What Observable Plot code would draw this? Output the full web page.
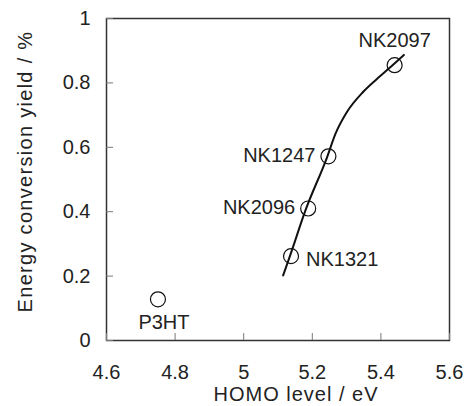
<!DOCTYPE html>
<html>
<head>
<meta charset="utf-8">
<script src="https://cdn.jsdelivr.net/npm/d3@7"></script>
<script src="https://cdn.jsdelivr.net/npm/@observablehq/plot@0.6"></script>
<style>
  html, body { margin: 0; padding: 0; background: #fff; }
  #chart svg { display: block; }
</style>
</head>
<body>
<div id="chart"></div>
<script>
// Materials (HOMO level in eV, energy conversion yield in %)
const names = ["P3HT", "NK1321", "NK2096", "NK1247", "NK2097"];
const homo = [4.75, 5.138, 5.188, 5.247, 5.44];
const yieldPct = [0.128, 0.262, 0.41, 0.572, 0.855];

// Trend curve
const curveX = [5.115, 5.136, 5.180, 5.243, 5.268, 5.300, 5.350, 5.399, 5.438, 5.467];
const curveY = [0.202, 0.266, 0.404, 0.569, 0.643, 0.708, 0.774, 0.822, 0.859, 0.887];

// Tick labels
const xTicks = [4.6, 4.8, 5.0, 5.2, 5.4, 5.6];
const yTicks = [0, 0.2, 0.4, 0.6, 0.8, 1];

const xTitle = "HOMO level / eV";
const yTitle = "Energy conversion yield / %";

const points = names.map((n, i) => ({name: n, x: homo[i], y: yieldPct[i]}));
const curve = curveX.map((x, i) => ({x, y: curveY[i]}));
const fmt = d => String(d);

const font = "'Liberation Sans', Arial, Helvetica, sans-serif";
const ink = "#222";

const chart = Plot.plot({
  width: 466,
  height: 406,
  marginLeft: 106,
  marginRight: 17,
  marginTop: 18,
  marginBottom: 66,
  style: {fontFamily: font, fontSize: "20px", color: ink, background: "#fff"},
  x: {domain: [4.6, 5.6]},
  y: {domain: [0, 1]},
  marks: [
    Plot.frame({stroke: "#333", strokeWidth: 1.5}),
    Plot.axisX({ticks: xTicks, tickSize: -7, tickPadding: 31, tickFormat: fmt, label: null, stroke: "#777", fontSize: 20, fill: ink}),
    Plot.axisY({ticks: yTicks, tickSize: -7, tickPadding: 23, tickFormat: fmt, label: null, stroke: "#777", fontSize: 20, fill: ink}),
    Plot.line(curve, {x: "x", y: "y", curve: "monotone-x", stroke: "#111", strokeWidth: 2}),
    Plot.dot(points, {x: "x", y: "y", r: 7.5, stroke: "#111", strokeWidth: 1.2, fill: "none"}),
    // labels
    Plot.text(points.filter(d => d.name === "NK2097"), {x: "x", y: "y", text: "name", dy: -25, fontSize: 20, fill: ink}),
    Plot.text(points.filter(d => d.name === "NK1247" || d.name === "NK2096"), {x: "x", y: "y", text: "name", textAnchor: "end", dx: -13, dy: -1, fontSize: 20, fill: ink}),
    Plot.text(points.filter(d => d.name === "NK1321"), {x: "x", y: "y", text: "name", textAnchor: "start", dx: 15, dy: 3, fontSize: 20, fill: ink}),
    Plot.text(points.filter(d => d.name === "P3HT"), {x: "x", y: "y", text: "name", dx: 6, dy: 23, fontSize: 20, fill: ink}),
    // axis titles
    Plot.text([xTitle], {frameAnchor: "bottom", textAnchor: "middle", lineAnchor: "middle", text: d => d, dx: 18, dy: 54, fontSize: 20, fill: ink}),
    Plot.text([yTitle], {frameAnchor: "left", textAnchor: "middle", lineAnchor: "middle", text: d => d, rotate: -90, dx: -81, dy: -8, fontSize: 20, fill: ink})
  ]
});
d3.select(chart).selectAll("text")
  .filter(function () { return this.textContent === xTitle; })
  .style("letter-spacing", "1px");
d3.select(chart).selectAll("text")
  .filter(function () { return this.textContent === yTitle; })
  .style("letter-spacing", "1.3px");
document.getElementById("chart").appendChild(chart);
</script>
</body>
</html>
